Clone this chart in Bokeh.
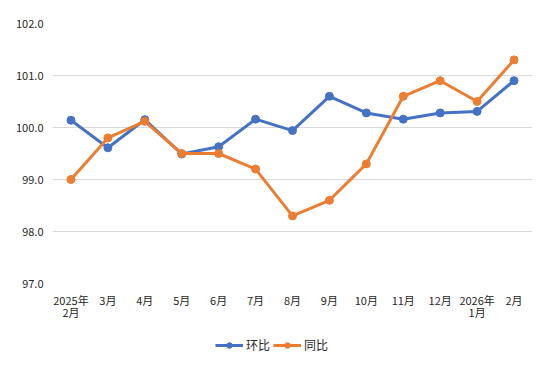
from bokeh.plotting import figure
from bokeh.layouts import column
from bokeh.models import ColumnDataSource, FactorRange, Legend, LegendItem, SingleIntervalTicker, NumeralTickFormatter, Range1d
from bokeh.embed import file_html
from bokeh.resources import INLINE

months = ["2025年\n2月", "3月", "4月", "5月", "6月", "7月", "8月", "9月", "10月", "11月", "12月", "2026年\n1月", "2月"]
huanbi = [100.14, 99.61, 100.15, 99.49, 99.63, 100.16, 99.94, 100.6, 100.28, 100.16, 100.28, 100.31, 100.9]
tongbi = [99.0, 99.8, 100.12, 99.5, 99.5, 99.2, 98.3, 98.6, 99.3, 100.6, 100.9, 100.5, 101.3]
series_names = ["环比", "同比"]
colors = ["#4472C4", "#ED7D31"]

FONT = "Noto Sans CJK SC"

p = figure(width=553, height=330, x_range=FactorRange(*months, range_padding=0),
           y_range=Range1d(97.0, 102.0), output_backend="svg", toolbar_location=None,
           min_border_left=52, min_border_right=21, min_border_top=23, min_border_bottom=47)
p.outline_line_color = None
p.background_fill_color = "white"
p.border_fill_color = "white"

src = ColumnDataSource(dict(m=months, hb=huanbi, tb=tongbi))
for col, c in zip(["hb", "tb"], colors):
    p.line("m", col, source=src, line_color=c, line_width=3, line_join="round")
    p.scatter("m", col, source=src, size=8, fill_color=c, line_color=c)

p.yaxis.ticker = SingleIntervalTicker(interval=1.0)
p.yaxis.formatter = NumeralTickFormatter(format="0.0")
for ax in (p.xaxis[0], p.yaxis[0]):
    ax.axis_line_color = None
    ax.major_tick_line_color = None
    ax.minor_tick_line_color = None
    ax.major_label_text_font = FONT
    ax.major_label_text_font_size = "11px"
    ax.major_label_text_color = "#262626"
p.yaxis.major_label_standoff = 3
p.xaxis.major_label_standoff = 2
p.xaxis.major_label_text_line_height = 0.8
p.xgrid.grid_line_color = None
p.ygrid.grid_line_color = "#D9D9D9"
p.ygrid.grid_line_width = 1

# legend strip below the chart (its frame is aligned with the chart's frame)
lg = figure(width=553, height=43, output_backend="svg", toolbar_location=None,
            min_border=0, x_axis_type=None, y_axis_type=None,
            x_range=Range1d(10, 11), y_range=Range1d(10, 11))
lg.outline_line_color = None
lg.xgrid.visible = False
lg.ygrid.visible = False
lg.border_fill_color = "white"
items = []
for n, c in zip(series_names, colors):
    stub = ColumnDataSource(dict(x=[0, 0], y=[0, 0]))
    l = lg.line("x", "y", source=stub, line_color=c, line_width=3)
    s = lg.scatter("x", "y", source=stub, size=8, fill_color=c, line_color=c)
    items.append(LegendItem(label=n, renderers=[l, s]))
legend = Legend(items=items, orientation="horizontal", location=(163, 20),
                glyph_width=28, glyph_height=14, label_standoff=3, label_width=6, spacing=3,
                padding=0, margin=0, border_line_color=None, background_fill_alpha=0,
                label_text_font=FONT, label_text_font_size="12px",
                label_text_color="#262626", label_height=14)
lg.add_layout(legend, "center")

open("out.html", "w").write(file_html(column(p, lg), INLINE))
